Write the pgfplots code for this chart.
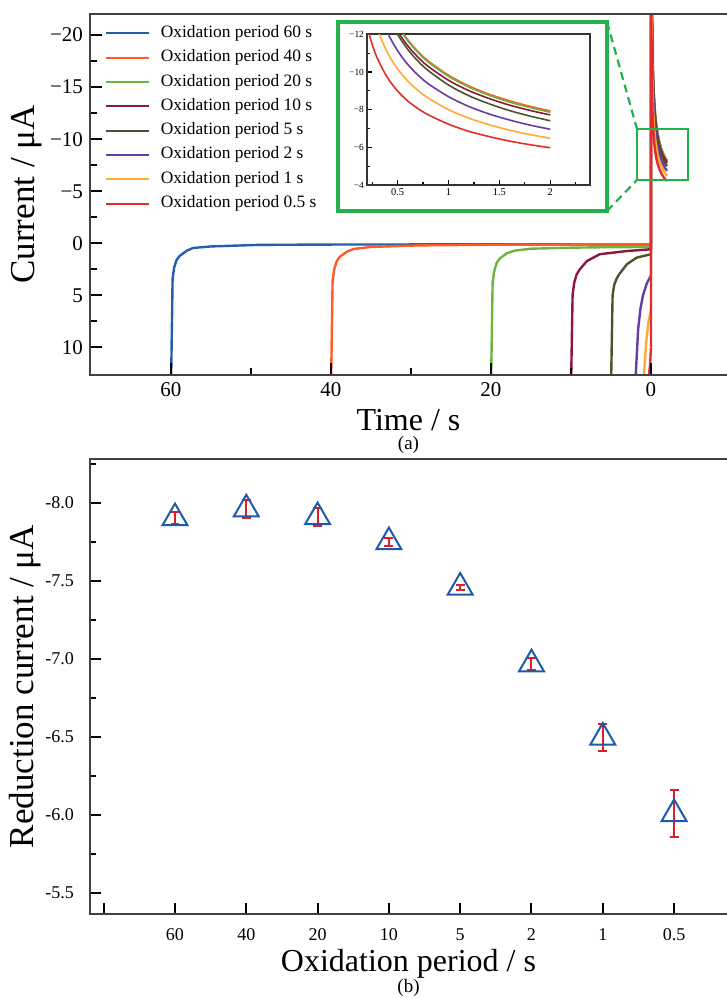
\documentclass[border=0pt]{standalone}
\usepackage{fontspec}
\setmainfont{Liberation Serif}
\usepackage{pgfplots}
\pgfplotsset{compat=1.18}
\usepackage{pgfplotstable}

\definecolor{cA}{RGB}{35,95,170}
\definecolor{cB}{RGB}{255,90,40}
\definecolor{cC}{RGB}{110,180,60}
\definecolor{cD}{RGB}{140,25,60}
\definecolor{cE}{RGB}{75,85,45}
\definecolor{cF}{RGB}{105,60,165}
\definecolor{cG}{RGB}{255,170,50}
\definecolor{cH}{RGB}{225,45,45}
\definecolor{mblue}{RGB}{30,90,170}
\definecolor{ered}{RGB}{220,30,40}
\definecolor{gframe}{RGB}{34,177,76}

% reduction step: t = time after switching (s), columns = current (uA)
\pgfplotstableread{
t    a      b      c      d      e      f      g      h
0    0.1    0.1    0.35   0.57   1.05   3.1    6.3    10
0    -40    -40    -40    -40    -40    -40    -40    -40
0.05 -32.22 -32.29 -32.41 -31.40 -31.84 -29.15 -26.07 -22.00
0.1  -23.76 -23.81 -23.87 -23.16 -23.34 -21.43 -19.25 -16.43
0.15 -20.01 -20.06 -20.08 -19.51 -19.58 -18.01 -16.23 -13.96
0.2  -17.78 -17.82 -17.83 -17.34 -17.33 -15.97 -14.43 -12.48
0.25 -16.25 -16.30 -16.29 -15.85 -15.80 -14.58 -13.21 -11.48
0.3  -15.12 -15.17 -15.15 -14.75 -14.67 -13.55 -12.30 -10.74
0.4  -13.54 -13.59 -13.56 -13.22 -13.08 -12.11 -11.03 -9.70
0.5  -12.47 -12.51 -12.47 -12.17 -12.00 -11.13 -10.16 -8.99
0.6  -11.67 -11.71 -11.67 -11.39 -11.20 -10.40 -9.52  -8.46
0.7  -11.05 -11.09 -11.04 -10.79 -10.58 -9.84  -9.02  -8.06
0.8  -10.55 -10.59 -10.54 -10.30 -10.08 -9.38  -8.62  -7.73
1.0  -9.79  -9.83  -9.77  -9.56  -9.31  -8.69  -8.00  -7.23
1.2  -9.23  -9.26  -9.20  -9.01  -8.74  -8.17  -7.55  -6.85
1.4  -8.79  -8.82  -8.76  -8.59  -8.31  -7.77  -7.20  -6.57
1.6  -8.44  -8.47  -8.40  -8.24  -7.95  -7.45  -6.91  -6.33
1.8  -8.15  -8.18  -8.11  -7.96  -7.66  -7.18  -6.68  -6.14
2.0  -7.90  -7.93  -7.86  -7.72  -7.41  -6.96  -6.48  -5.98
}\redtable

\begin{document}
\begin{tikzpicture}
\useasboundingbox (0,0) rectangle (363.5pt,-499pt);

% ---------------- panel (a) ----------------
\begin{axis}[
  at={(45pt,-7pt)}, anchor=north west,
  scale only axis, width=322.5pt, height=180.5pt,
  x dir=reverse, y dir=reverse,
  xmin=-10.5, xmax=70.125, ymin=-22.02, ymax=12.65,
  xtick={60,40,20,0}, xticklabels={60,40,20,0},
  minor xtick={50,30,10},
  ytick={-20,-15,-10,-5,0,5,10},
  yticklabels={−20,−15,−10,−5,0,5,10},
  minor ytick={-17.5,-12.5,-7.5,-2.5,2.5,7.5},
  xtick pos=bottom, ytick pos=left,
  tick align=inside,
  major tick length=6pt, minor tick length=3.5pt,
  tick style={black, line width=1pt},
  axis line style={black!75, line width=1.4pt},
  ticklabel style={font=\fontsize{10.5}{12}\selectfont},
  axis on top,
  every axis plot/.append style={line width=1.2pt},
  legend style={draw=none, fill=none, at={(0,1)}, anchor=north west,
    xshift=7.5pt, yshift=-5.5pt, inner sep=0pt, row sep=4.15pt,
    font=\fontsize{8.7}{10}\selectfont,
    nodes={inner sep=0pt, text height=6pt, text depth=2pt},
    /tikz/every odd column/.style={column sep=5.25pt}},
  legend cell align=left,
  legend image code/.code={\draw[#1, line width=1pt] (0pt,0pt) -- (21.5pt,0pt);},
]
\addplot[cA] coordinates {(60,14) (59.8,3.4) (59.6,2.3) (59.3,1.6) (58.9,1.2) (58,0.7) (57.25,0.45) (55,0.3) (49,0.15) (40,0.12) (20,0.1) (0,0.1)};
\addlegendentry{Oxidation period 60 s}
\addplot[cA, forget plot] table[x expr=-\thisrow{t}, y=a] {\redtable};
\addplot[cB] coordinates {(40,14) (39.8,3.6) (39.6,2.5) (39.3,1.75) (38.9,1.3) (38,0.8) (37.2,0.55) (35,0.35) (29,0.2) (20,0.14) (10,0.11) (0,0.1)};
\addlegendentry{Oxidation period 40 s}
\addplot[cB, forget plot] table[x expr=-\thisrow{t}, y=b] {\redtable};
\addplot[cC] coordinates {(20,14) (19.8,3.8) (19.6,2.7) (19.3,1.9) (18.9,1.45) (18,0.95) (17,0.7) (15,0.52) (10,0.42) (5,0.37) (0,0.35)};
\addlegendentry{Oxidation period 20 s}
\addplot[cC, forget plot] table[x expr=-\thisrow{t}, y=c] {\redtable};
\addplot[cD] coordinates {(10,14) (9.8,5.0) (9.6,3.8) (9.3,3.0) (8.9,2.5) (8,1.7) (6.4,1.05) (3,0.74) (0,0.57)};
\addlegendentry{Oxidation period 10 s}
\addplot[cD, forget plot] table[x expr=-\thisrow{t}, y=d] {\redtable};
\addplot[cE] coordinates {(5,14) (4.8,5.0) (4.6,4.0) (4.3,3.4) (4.0,3.0) (3,2.0) (1.8,1.38) (0,1.05)};
\addlegendentry{Oxidation period 5 s}
\addplot[cE, forget plot] table[x expr=-\thisrow{t}, y=e] {\redtable};
\addplot[cF] coordinates {(2,14) (1.6,8.2) (1.3,6.2) (1.0,5.0) (0.5,3.8) (0,3.1)};
\addlegendentry{Oxidation period 2 s}
\addplot[cF, forget plot] table[x expr=-\thisrow{t}, y=f] {\redtable};
\addplot[cG] coordinates {(1,14) (0.6,9.5) (0.3,7.5) (0,6.3)};
\addlegendentry{Oxidation period 1 s}
\addplot[cG, forget plot] table[x expr=-\thisrow{t}, y=g] {\redtable};
\addplot[cH] coordinates {(0.5,14) (0.3,13) (0.1,11.5) (0,10)};
\addlegendentry{Oxidation period 0.5 s}
\addplot[cH, forget plot] table[x expr=-\thisrow{t}, y=h] {\redtable};
\end{axis}

% ---------------- inset ----------------
\begin{axis}[
  at={(183.65pt,-17.15pt)}, anchor=north west,
  scale only axis, width=111.35pt, height=75.35pt,
  y dir=reverse,
  xmin=0.2025, xmax=2.39, ymin=-12, ymax=-4,
  xtick={0.5,1,1.5,2}, xticklabels={0.5,1,1.5,2},
  minor xtick={0.25,0.75,1.25,1.75,2.25},
  ytick={-12,-10,-8,-6,-4}, yticklabels={−12,−10,−8,−6,−4},
  minor ytick={-11,-9,-7,-5},
  xtick pos=bottom, ytick pos=left,
  tick align=inside,
  major tick length=2.5pt, minor tick length=1.5pt,
  tick style={black, line width=0.6pt},
  axis line style={black!80, line width=0.9pt},
  xticklabel style={font=\fontsize{5.2}{6}\selectfont, inner sep=1.5pt},
  yticklabel style={font=\fontsize{4.7}{5}\selectfont, inner sep=1.5pt},
  every axis plot/.append style={line width=0.8pt, smooth},
]
\addplot[cA, restrict x to domain=0.04:3] table[x=t, y=a] {\redtable};
\addplot[cB, restrict x to domain=0.04:3] table[x=t, y=b] {\redtable};
\addplot[cC, restrict x to domain=0.04:3] table[x=t, y=c] {\redtable};
\addplot[cD, restrict x to domain=0.04:3] table[x=t, y=d] {\redtable};
\addplot[cE, restrict x to domain=0.04:3] table[x=t, y=e] {\redtable};
\addplot[cF, restrict x to domain=0.04:3] table[x=t, y=f] {\redtable};
\addplot[cG, restrict x to domain=0.04:3] table[x=t, y=g] {\redtable};
\addplot[cH, restrict x to domain=0.04:3] table[x=t, y=h] {\redtable};
\end{axis}

% zoom frame and connectors
\draw[gframe, line width=1.7pt] (169pt,-11pt) rectangle (303.5pt,-105.5pt);
\draw[gframe, line width=1pt] (318.5pt,-64.5pt) rectangle (344pt,-90pt);
\draw[gframe, line width=1.1pt, dash pattern=on 4pt off 2.5pt] (303.5pt,-11pt) -- (318.5pt,-64.5pt);
\draw[gframe, line width=1.1pt, dash pattern=on 4pt off 2.5pt] (303.5pt,-105.5pt) -- (318.5pt,-90pt);

% labels panel (a)
\node[rotate=90, font=\fontsize{17.5}{19}\selectfont] at (13.5pt,-97.25pt) {Current / μA};
\node[anchor=base, font=\fontsize{16}{18}\selectfont] at (204.25pt,-215pt) {Time / s};
\node[font=\fontsize{9.5}{11}\selectfont] at (204.25pt,-222.5pt) {(a)};

% ---------------- panel (b) ----------------
\begin{axis}[
  at={(45pt,-229.5pt)}, anchor=north west,
  scale only axis, width=322.5pt, height=227.5pt,
  y dir=reverse,
  xmin=-1.192, xmax=7.854, ymin=-8.282, ymax=-5.365,
  xtick={-1,0,1,2,3,4,5,6,7}, xticklabels={,60,40,20,10,5,2,1,0.5},
  ytick={-8,-7.5,-7,-6.5,-6,-5.5},
  yticklabels={-8.0,-7.5,-7.0,-6.5,-6.0,-5.5},
  minor ytick={-8.25,-7.75,-7.25,-6.75,-6.25,-5.75},
  xtick pos=bottom, ytick pos=left,
  tick align=inside,
  major tick length=5.5pt, minor tick length=3pt,
  tick style={black, line width=1pt},
  axis line style={black!75, line width=1.4pt},
  xticklabel style={font=\fontsize{9}{11}\selectfont, yshift=-3.8pt},
  yticklabel style={font=\fontsize{9}{11}\selectfont, xshift=-4.5pt},
  axis on top,
]
\addplot[only marks, mark=triangle, mark size=7.2pt, color=mblue,
  mark options={line width=1pt},
  error bars/.cd, y dir=both, y explicit,
  error bar style={ered, line width=1pt},
  error mark options={rotate=90, ered, mark size=2.2pt, line width=1pt}]
coordinates {
  (0,-7.904) +- (0,0.038)
  (1,-7.960) +- (0,0.057)
  (2,-7.910) +- (0,0.057)
  (3,-7.750) +- (0,0.025)
  (4,-7.459) +- (0,0.015)
  (5,-6.967) +- (0,0.040)
  (6,-6.497) +- (0,0.089)
  (7,-6.007) +- (0,0.150)
};
\end{axis}

\node[rotate=90, font=\fontsize{17.5}{19}\selectfont] at (12.5pt,-343.25pt) {Reduction current / μA};
\node[anchor=base, font=\fontsize{16}{18}\selectfont] at (204.25pt,-485.5pt) {Oxidation period / s};
\node[font=\fontsize{9.5}{11}\selectfont] at (204.25pt,-494pt) {(b)};

\end{tikzpicture}
\end{document}
